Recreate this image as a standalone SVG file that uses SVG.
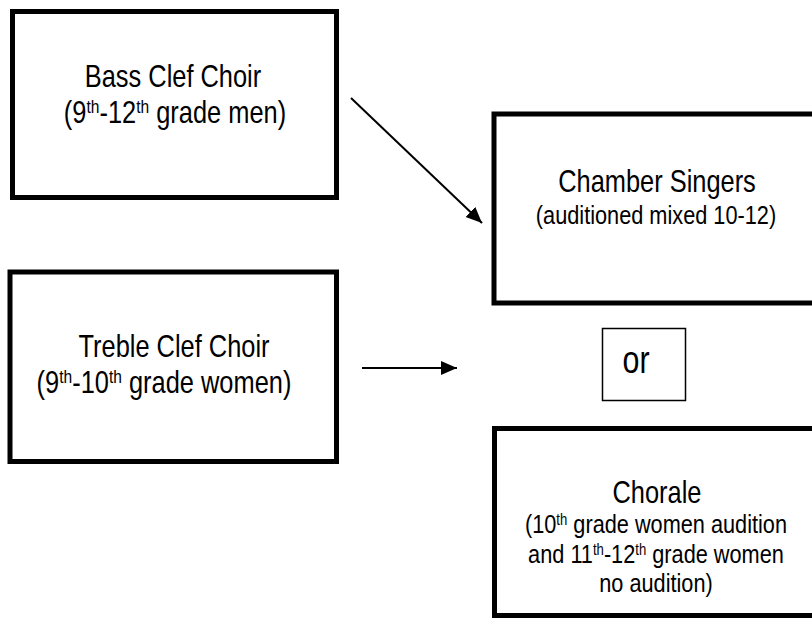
<svg xmlns="http://www.w3.org/2000/svg" width="812" height="618" viewBox="0 0 812 618">
<style>
.box{fill:#fff;stroke:#000;stroke-width:5}
.thin{fill:#fff;stroke:#000;stroke-width:1.5}
.t{font-family:"Liberation Sans Narrow","Arial Narrow","Liberation Sans",sans-serif;fill:#000;text-anchor:middle}
.big{font-size:31px}
.mid{font-size:26.5px}
.or{font-size:38px}
.conn{stroke:#000;stroke-width:2;fill:none}
</style>
<defs>
<marker id="ah" markerUnits="userSpaceOnUse" markerWidth="18" markerHeight="16" refX="16" refY="7" orient="auto">
<path d="M0,0 L16,7 L0,14 z" fill="#000"/>
</marker>
</defs>
<rect width="812" height="618" fill="#fff"/>
<g id="bass">
<rect class="box" x="12.5" y="11.5" width="324" height="186"/>
<text class="t big" x="173" y="87" transform="matrix(0.82,0,0,1,31.14,0)">Bass Clef Choir</text>
<text class="t big" x="175" y="123" transform="matrix(0.82,0,0,1,31.5,0)">(9<tspan font-size="19" dy="-10">th</tspan><tspan dy="10">-12</tspan><tspan font-size="19" dy="-10">th</tspan><tspan dy="10"> grade men)</tspan></text>
</g>
<g id="treble">
<rect class="box" x="10" y="272" width="326.5" height="189.5"/>
<text class="t big" x="174" y="357" transform="matrix(0.82,0,0,1,31.32,0)">Treble Clef Choir</text>
<text class="t big" x="164" y="393" transform="matrix(0.82,0,0,1,29.52,0)">(9<tspan font-size="19" dy="-10">th</tspan><tspan dy="10">-10</tspan><tspan font-size="19" dy="-10">th</tspan><tspan dy="10"> grade women)</tspan></text>
</g>
<g id="chamber">
<rect class="box" x="494" y="114" width="330" height="189"/>
<text class="t big" x="657" y="192" transform="matrix(0.82,0,0,1,118.26,0)">Chamber Singers</text>
<text class="t mid" x="656" y="224" transform="matrix(0.82,0,0,1,118.08,0)">(auditioned mixed 10-12)</text>
</g>
<g id="or">
<rect class="thin" x="602.5" y="328.5" width="83" height="72"/>
<text class="t or" x="636" y="373" transform="matrix(0.8,0,0,1,127.2,0)">or</text>
</g>
<g id="chorale">
<rect class="box" x="494.5" y="428.5" width="330" height="187"/>
<text class="t big" x="657" y="503" transform="matrix(0.82,0,0,1,118.26,0)">Chorale</text>
<text class="t mid" x="656" y="533" transform="matrix(0.82,0,0,1,118.08,0)">(10<tspan font-size="16" dy="-8">th</tspan><tspan dy="8"> grade women audition</tspan></text>
<text class="t mid" x="656" y="563" transform="matrix(0.82,0,0,1,118.08,0)">and 11<tspan font-size="16" dy="-8">th</tspan><tspan dy="8">-12</tspan><tspan font-size="16" dy="-8">th</tspan><tspan dy="8"> grade women</tspan></text>
<text class="t mid" x="656" y="592" transform="matrix(0.82,0,0,1,118.08,0)">no audition)</text>
</g>
<g id="connectors">
<line class="conn" x1="351" y1="98" x2="482" y2="223" marker-end="url(#ah)"/>
<line class="conn" x1="362" y1="368" x2="457" y2="368" marker-end="url(#ah)"/>
</g>
</svg>
